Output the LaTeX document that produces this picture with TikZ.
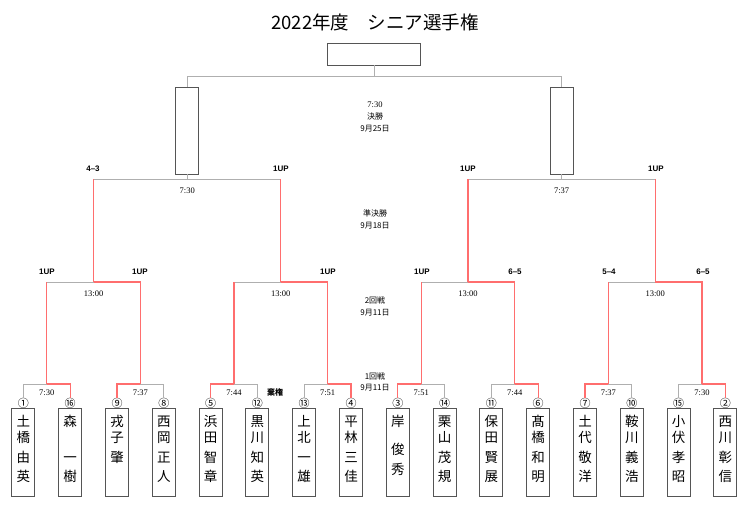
\documentclass[tikz,border=0pt]{standalone}
\usepackage{fontspec}
\setmainfont{Liberation Serif}
\newfontfamily\jpfont{Noto Sans CJK JP}
\newfontfamily\scfont{Liberation Sans}
\usetikzlibrary{positioning}
\definecolor{winred}{RGB}{255,110,110}
\definecolor{linegray}{RGB}{175,175,175}
\definecolor{boxgray}{RGB}{85,85,85}
\newcommand{\tate}[1]{\vbox to 78pt{\hsize=18pt\parindent=0pt\centering\vskip 0.5pt\rule{0pt}{12.5pt}#1\par\vfil}}

\begin{document}
\begin{tikzpicture}[x=1pt, y=-1pt,
    win/.style={draw=winred, line width=1.1pt},
    lose/.style={draw=linegray, line width=0.9pt},
    pbox/.style={draw=boxgray, line width=0.9pt, minimum width=23pt, minimum height=88pt, inner sep=0pt, font=\jpfont\fontsize{13.5}{16}\selectfont},
    seed/.style={inner sep=0pt, font=\jpfont\fontsize{11}{11}\selectfont},
    score/.style={inner sep=0pt, font=\scfont\bfseries\fontsize{8}{8}\selectfont},
    tm/.style={inner sep=0pt, font=\fontsize{8.5}{9}\selectfont},
    rnd/.style={inner sep=0pt, font=\jpfont\fontsize{8}{9}\selectfont}]
    \useasboundingbox (0,0) rectangle (750,512);

    % Title
    \node[font=\jpfont\fontsize{18.5}{20}\selectfont] (title) at (375,22) {2022年度　シニア選手権};

    % Champion and finalists
    \node[draw=boxgray, line width=0.9pt, minimum width=93pt, minimum height=22pt] (champ) at (374.4,54) {};
    \node[draw=boxgray, line width=0.9pt, minimum width=23pt, minimum height=87pt] (fb1) at (187.2,130.5) {};
    \node[draw=boxgray, line width=0.9pt, minimum width=23pt, minimum height=87pt] (fb2) at (561.6,130.5) {};

    % Players
    \node[pbox] (p1) at (23.4,452) {\tate{土\\橋\\[4pt]由\\[3pt]英}};
    \node[pbox] (p2) at (70.2,452) {\tate{森\\[20pt]一\\[3pt]樹}};
    \node[pbox] (p3) at (117.0,452) {\tate{戎\\子\\[4pt]肇}};
    \node[pbox] (p4) at (163.8,452) {\tate{西\\岡\\[4pt]正\\[3pt]人}};
    \node[pbox] (p5) at (210.6,452) {\tate{浜\\田\\[4pt]智\\[3pt]章}};
    \node[pbox] (p6) at (257.4,452) {\tate{黒\\川\\[4pt]知\\[3pt]英}};
    \node[pbox] (p7) at (304.2,452) {\tate{上\\北\\[4pt]一\\[3pt]雄}};
    \node[pbox] (p8) at (351.0,452) {\tate{平\\林\\[4pt]三\\[3pt]佳}};
    \node[pbox] (p9) at (397.8,452) {\tate{岸\\[12pt]俊\\[4pt]秀}};
    \node[pbox] (p10) at (444.6,452) {\tate{栗\\山\\[4pt]茂\\[3pt]規}};
    \node[pbox] (p11) at (491.4,452) {\tate{保\\田\\[4pt]賢\\[3pt]展}};
    \node[pbox] (p12) at (538.2,452) {\tate{髙\\橋\\[4pt]和\\[3pt]明}};
    \node[pbox] (p13) at (585.0,452) {\tate{土\\代\\[4pt]敬\\[3pt]洋}};
    \node[pbox] (p14) at (631.8,452) {\tate{鞍\\川\\[4pt]義\\[3pt]浩}};
    \node[pbox] (p15) at (678.6,452) {\tate{小\\伏\\[4pt]孝\\[3pt]昭}};
    \node[pbox] (p16) at (725.4,452) {\tate{西\\川\\[4pt]彰\\[3pt]信}};

    % Seeds
    \node[seed] (s1) at (23.4,403) {①};
    \node[seed] (s2) at (70.2,403) {⑯};
    \node[seed] (s3) at (117.0,403) {⑨};
    \node[seed] (s4) at (163.8,403) {⑧};
    \node[seed] (s5) at (210.6,403) {⑤};
    \node[seed] (s6) at (257.4,403) {⑫};
    \node[seed] (s7) at (304.2,403) {⑬};
    \node[seed] (s8) at (351.0,403) {④};
    \node[seed] (s9) at (397.8,403) {③};
    \node[seed] (s10) at (444.6,403) {⑭};
    \node[seed] (s11) at (491.4,403) {⑪};
    \node[seed] (s12) at (538.2,403) {⑥};
    \node[seed] (s13) at (585.0,403) {⑦};
    \node[seed] (s14) at (631.8,403) {⑩};
    \node[seed] (s15) at (678.6,403) {⑮};
    \node[seed] (s16) at (725.4,403) {②};

    % Bracket points
    \coordinate (m1) at (46.8,384);
    \coordinate (m2) at (140.4,384);
    \coordinate (m3) at (234.0,384);
    \coordinate (m4) at (327.6,384);
    \coordinate (m5) at (421.2,384);
    \coordinate (m6) at (514.8,384);
    \coordinate (m7) at (608.4,384);
    \coordinate (m8) at (702.0,384);
    \coordinate (q1) at (93.6,282);
    \coordinate (q2) at (280.8,282);
    \coordinate (q3) at (468.0,282);
    \coordinate (q4) at (655.2,282);
    \coordinate (f1) at (187.2,179);
    \coordinate (f2) at (561.6,179);
    \coordinate (fin) at (374.4,76);

    % First round
    \draw[lose] (s1.north) |- (m1);
    \draw[win] (s2.north) |- (m1);
    \draw[lose] (s4.north) |- (m2);
    \draw[win] (s3.north) |- (m2);
    \draw[lose] (s6.north) |- (m3);
    \draw[win] (s5.north) |- (m3);
    \draw[lose] (s7.north) |- (m4);
    \draw[win] (s8.north) |- (m4);
    \draw[lose] (s10.north) |- (m5);
    \draw[win] (s9.north) |- (m5);
    \draw[lose] (s11.north) |- (m6);
    \draw[win] (s12.north) |- (m6);
    \draw[lose] (s14.north) |- (m7);
    \draw[win] (s13.north) |- (m7);
    \draw[lose] (s15.north) |- (m8);
    \draw[win] (s16.north) |- (m8);

    % Second round
    \draw[lose] (m1 |- q1) -- (q1);
    \draw[win] (m1) -- (m1 |- q1);
    \draw[win] (m2) |- (q1);
    \draw[lose] (m3 |- q2) -- (q2);
    \draw[win] (m3) -- (m3 |- q2);
    \draw[win] (m4) |- (q2);
    \draw[lose] (m5 |- q3) -- (q3);
    \draw[win] (m5) -- (m5 |- q3);
    \draw[win] (m6) |- (q3);
    \draw[lose] (m7 |- q4) -- (q4);
    \draw[win] (m7) -- (m7 |- q4);
    \draw[win] (m8) |- (q4);

    % Semifinals
    \draw[lose] (q1 |- f1) -- (q2 |- f1);
    \draw[win] (q1) -- (q1 |- f1);
    \draw[win] (q2) -- (q2 |- f1);
    \draw[lose] (q3 |- f2) -- (q4 |- f2);
    \draw[win] (q3) -- (q3 |- f2);
    \draw[win] (q4) -- (q4 |- f2);
    \draw[lose] (f1) -- (fb1.south);
    \draw[lose] (f2) -- (fb2.south);

    % Final
    \draw[lose] (fb1.north) |- (fin);
    \draw[lose] (fb2.north) |- (fin);
    \draw[lose] (fin) -- (champ.south);

    % Times
    \node[tm] (t1) at (46.8,393) {7:30};
    \node[tm] (t2) at (140.4,393) {7:37};
    \node[tm] (t3) at (234.0,393) {7:44};
    \node[tm] (t4) at (327.6,393) {7:51};
    \node[tm] (t5) at (421.2,393) {7:51};
    \node[tm] (t6) at (514.8,393) {7:44};
    \node[tm] (t7) at (608.4,393) {7:37};
    \node[tm] (t8) at (702.0,393) {7:30};
    \node[tm] (tq1) at (93.6,294) {13:00};
    \node[tm] (tq2) at (280.8,294) {13:00};
    \node[tm] (tq3) at (468.0,294) {13:00};
    \node[tm] (tq4) at (655.2,294) {13:00};
    \node[tm] (tf1) at (187.2,191) {7:30};
    \node[tm] (tf2) at (561.6,191) {7:37};
    \node[tm] (tfin) at (375,105) {7:30};
    \node[rnd, font=\jpfont\bfseries\fontsize{8}{9}\selectfont] (kiken) at (275,392) {棄権};

    % Scores
    \node[score] (c1) at (47,272) {1UP};
    \node[score] (c2) at (140,272) {1UP};
    \node[score] (c4) at (328,272) {1UP};
    \node[score] (c5) at (422,272) {1UP};
    \node[score] (c6) at (515,272) {6–5};
    \node[score] (c7) at (609,272) {5–4};
    \node[score] (c8) at (703,272) {6–5};
    \node[score] (d1) at (93,169) {4–3};
    \node[score] (d2) at (281,169) {1UP};
    \node[score] (d3) at (468,169) {1UP};
    \node[score] (d4) at (656,169) {1UP};

    % Rounds
    \node[rnd] (r4a) at (375,116) {決勝};
    \node[rnd] (r4b) at (375,129) {9月25日};
    \node[rnd] (r3a) at (375,213) {準決勝};
    \node[rnd] (r3b) at (375,226) {9月18日};
    \node[rnd] (r2a) at (375,300) {2回戦};
    \node[rnd] (r2b) at (375,313) {9月11日};
    \node[rnd] (r1a) at (375,376) {1回戦};
    \node[rnd] (r1b) at (375,388) {9月11日};
\end{tikzpicture}
\end{document}
